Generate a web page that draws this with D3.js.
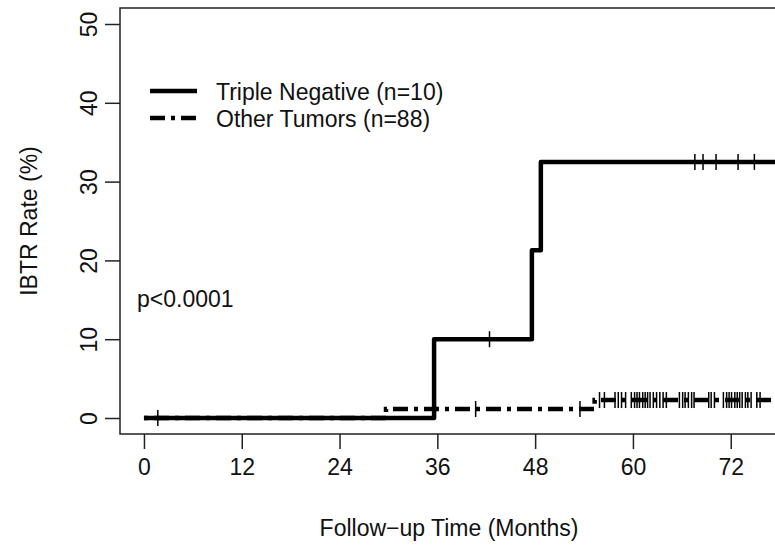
<!DOCTYPE html>
<html>
<head>
<meta charset="utf-8">
<script src="https://cdn.jsdelivr.net/npm/d3@7"></script>
<style>
  body { margin: 0; background: #fff; }
  text { font-family: "Liberation Sans", Arial, sans-serif; fill: #111; }
</style>
</head>
<body>
<svg id="chart" width="775" height="553"></svg>
<script>
var width = 775
var height = 553

// triple negative (n=10): step times (months) and IBTR rate (%)
var tnTimes = [0, 35.6, 47.6, 48.7, 78];
var tnRates = [0, 10, 21.3, 32.5, 32.5];
var tnCensor = [42.4, 67.6, 68.6, 70.2, 72.9, 74.9];

// other tumors (n=88)
var otTimes = [0, 29.7, 55.3, 78];
var otRates = [0, 1.14, 2.28, 2.28];
var otCensor = [1.7, 40.7, 53.5, 55.9, 56.5, 57.8, 58.2, 58.6, 59.1, 59.8, 60.2, 60.5,
  60.8, 61.2, 61.5, 61.8, 62.1, 62.5, 62.9, 63.3, 63.7, 64.1, 65.7, 66.1, 66.4, 66.8,
  67.2, 67.5, 69.3, 69.6, 70.0, 71.1, 71.5, 71.8, 72.1, 72.5, 72.8, 73.1, 73.4, 73.8,
  74.1, 74.5, 75.2, 75.6];

var xTicks = [0, 12, 24, 36, 48, 60, 72];
var yTicks = [0, 10, 20, 30, 40, 50];
var legendNames = ["Triple Negative (n=10)", "Other Tumors (n=88)"];

var x = d3.scaleLinear().domain([-2.94, 77.8]).range([120, 778]);
var y = d3.scaleLinear().domain([-2.03, 52.03]).range([434, 8]);

var svg = d3.select("#chart");

// box
svg.append("rect")
    .attr("x", 120).attr("y", 8)
    .attr("width", 658).attr("height", 426)
    .attr("fill", "none")
    .attr("stroke", "#222")
    .attr("stroke-width", 1.5);

// x axis
var xAxis = svg.append("g")
    .attr("transform", "translate(0,434)")
    .call(d3.axisBottom(x).tickValues(xTicks).tickSize(15).tickPadding(10));
xAxis.select(".domain").remove();
xAxis.selectAll("line").attr("stroke", "#222").attr("stroke-width", 1.5);
xAxis.selectAll("text").style("font-size", "23px").attr("fill", "#111");

// y axis
var yAxis = svg.append("g")
    .attr("transform", "translate(120,0)")
    .call(d3.axisLeft(y).tickValues(yTicks).tickSize(15));
yAxis.select(".domain").remove();
yAxis.selectAll("line").attr("stroke", "#222").attr("stroke-width", 1.5);
yAxis.selectAll("text")
    .attr("x", null).attr("dy", null)
    .attr("text-anchor", "middle")
    .attr("transform", "translate(-23,0) rotate(-90)")
    .style("font-size", "23px").attr("fill", "#111");

// axis titles
svg.append("text")
    .attr("x", 449).attr("y", 536)
    .attr("text-anchor", "middle")
    .style("font-size", "23px")
    .text("Follow\u2212up Time (Months)");

svg.append("text")
    .attr("transform", "translate(37,221) rotate(-90)")
    .attr("text-anchor", "middle")
    .style("font-size", "23px")
    .text("IBTR Rate (%)");

// step curves
var line = d3.line()
    .x(function(d) { return x(d[0]); })
    .y(function(d) { return y(d[1]); })
    .curve(d3.curveStepAfter);

var tnData = tnTimes.map(function(t, i) { return [t, tnRates[i]]; });
var otData = otTimes.map(function(t, i) { return [t, otRates[i]]; });

svg.append("path")
    .attr("d", line(otData))
    .attr("fill", "none")
    .attr("stroke", "#000")
    .attr("stroke-width", 4.5)
    .attr("stroke-dasharray", "4,6,15,6");

svg.append("path")
    .attr("d", line(tnData))
    .attr("fill", "none")
    .attr("stroke", "#000")
    .attr("stroke-width", 4.5)
    .attr("stroke-linejoin", "round");

// censor marks
function rateAt(times, rates, t) {
  var r = rates[0];
  for (var i = 0; i < times.length; i++) {
    if (times[i] <= t) r = rates[i];
  }
  return r;
}

function censorMarks(list, times, rates) {
  svg.append("g").selectAll("line")
    .data(list)
    .enter().append("line")
    .attr("x1", function(d) { return x(d); })
    .attr("x2", function(d) { return x(d); })
    .attr("y1", function(d) { return y(rateAt(times, rates, d)) - 8; })
    .attr("y2", function(d) { return y(rateAt(times, rates, d)) + 8; })
    .attr("stroke", "#000")
    .attr("stroke-width", 1.5);
}
censorMarks(otCensor, otTimes, otRates);
censorMarks(tnCensor, tnTimes, tnRates);

// legend
var legend = svg.append("g");
legend.selectAll("line")
    .data(legendNames)
    .enter().append("line")
    .attr("x1", 150).attr("x2", 197)
    .attr("y1", function(d, i) { return 91 + i * 27; })
    .attr("y2", function(d, i) { return 91 + i * 27; })
    .attr("stroke", "#000")
    .attr("stroke-width", 4.5)
    .attr("stroke-dasharray", function(d, i) { return i == 1 ? "15,6,4,6,15" : null; });
legend.selectAll("text")
    .data(legendNames)
    .enter().append("text")
    .attr("x", 216)
    .attr("y", function(d, i) { return 100 + i * 27; })
    .style("font-size", "23px")
    .text(function(d) { return d; });

svg.append("text")
    .attr("x", 137).attr("y", 307)
    .style("font-size", "23px")
    .text("p<0.0001");
</script>
</body>
</html>
